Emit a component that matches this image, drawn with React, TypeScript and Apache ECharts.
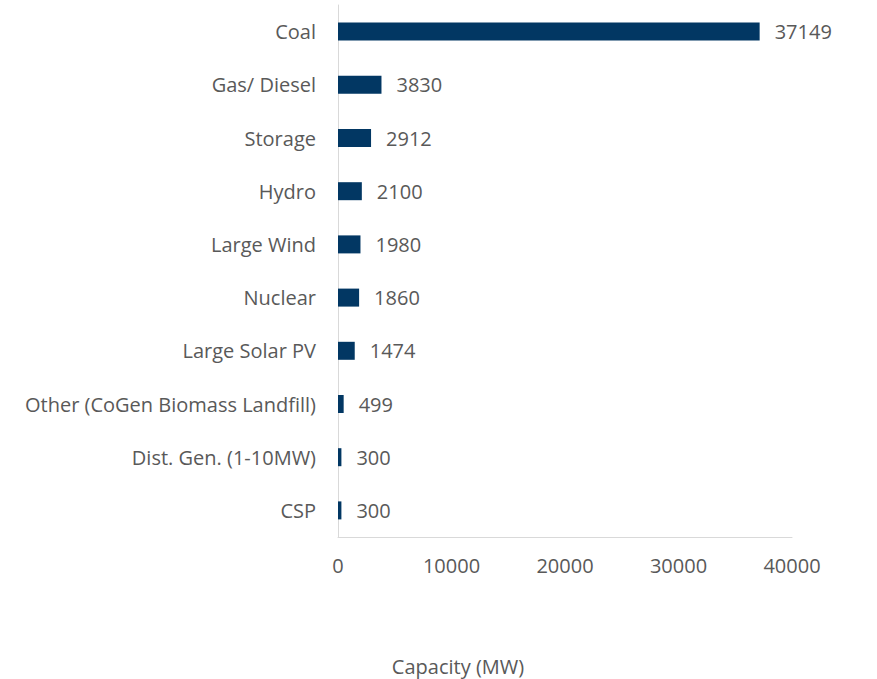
import React, { useEffect, useRef } from "react";
import * as echarts from "echarts";

const categories = [
  "Coal",
  "Gas/ Diesel",
  "Storage",
  "Hydro",
  "Large Wind",
  "Nuclear",
  "Large Solar PV",
  "Other (CoGen Biomass Landfill)",
  "Dist. Gen. (1-10MW)",
  "CSP",
];
const values = [37149, 3830, 2912, 2100, 1980, 1860, 1474, 499, 300, 300];
const axisTitle = "Capacity (MW)";

const FONT = "'Open Sans', sans-serif";
const TEXT = "#595959";
const FS = 20;

export default function App() {
  const ref = useRef<HTMLDivElement>(null);
  useEffect(() => {
    if (!ref.current) return;
    const chart = echarts.init(ref.current, undefined, { renderer: "svg" });
    chart.setOption({
      animation: false,
      backgroundColor: "#ffffff",
      grid: { left: 338, right: 85, top: 5, height: 532 },
      xAxis: {
        type: "value",
        min: 0,
        max: 40000,
        interval: 10000,
        splitLine: { show: false },
        axisLine: { show: true, lineStyle: { color: "#d9d9d9", width: 1 } },
        axisTick: { show: false },
        axisLabel: {
          color: TEXT,
          fontFamily: FONT,
          fontSize: FS,
          margin: 18,
          formatter: (v: number) => String(v),
        },
      },
      yAxis: {
        type: "category",
        inverse: true,
        data: categories,
        axisLine: { show: true, lineStyle: { color: "#d9d9d9", width: 1 } },
        axisTick: { show: false },
        axisLabel: { color: TEXT, fontFamily: FONT, fontSize: FS, margin: 22 },
      },
      graphic: [
        {
          type: "text",
          x: 458,
          y: 666,
          style: {
            text: axisTitle,
            fill: TEXT,
            font: `${FS}px ${FONT}`,
            align: "center",
            verticalAlign: "middle",
          },
        },
      ],
      series: [
        {
          type: "bar",
          data: values,
          barWidth: 18,
          itemStyle: { color: "#023763" },
          label: {
            show: true,
            position: "right",
            distance: 15,
            color: TEXT,
            fontFamily: FONT,
            fontSize: FS,
          },
        },
      ],
    });
    return () => chart.dispose();
  }, []);
  return (
    <div
      ref={ref}
      style={{ position: "absolute", left: 0, top: 0, width: 877, height: 679 }}
    />
  );
}
